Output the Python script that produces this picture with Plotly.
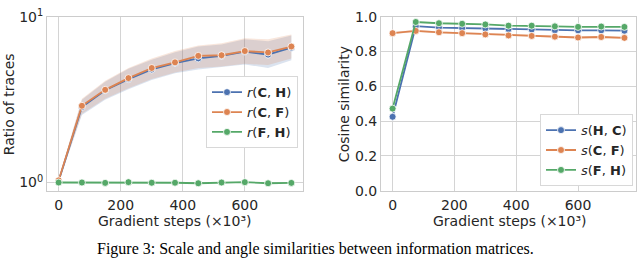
import plotly.graph_objects as go
from plotly.subplots import make_subplots

# gradient steps (x10^3)
steps = [0, 75, 150, 225, 300, 375, 450, 525, 600, 675, 750]

# ratio of traces (left panel)
r_ch = [1.02, 2.85, 3.6, 4.2, 4.8, 5.25, 5.6, 5.8, 6.15, 5.9, 6.5]
r_ch_lo = [1.0, 2.55, 3.15, 3.65, 4.15, 4.55, 4.8, 4.95, 5.15, 4.9, 5.45]
r_ch_hi = [1.04, 3.15, 4.05, 4.85, 5.5, 6.1, 6.6, 6.8, 7.3, 7.1, 7.7]

r_cf = [1.03, 2.9, 3.62, 4.26, 4.9, 5.3, 5.8, 5.85, 6.2, 6.08, 6.6]
r_cf_lo = [1.0, 2.6, 3.2, 3.7, 4.2, 4.6, 4.9, 5.0, 5.2, 5.1, 5.6]
r_cf_hi = [1.05, 3.2, 4.1, 4.9, 5.6, 6.2, 6.7, 6.9, 7.4, 7.3, 7.8]

r_fh = [1.0, 1.0, 0.995, 1.005, 0.997, 0.997, 0.99, 1.0, 1.005, 0.99, 0.995]

# cosine similarity (right panel)
s_hc = [0.425, 0.945, 0.937, 0.934, 0.932, 0.928, 0.926, 0.922, 0.921, 0.921, 0.919]
s_cf = [0.905, 0.918, 0.91, 0.905, 0.898, 0.892, 0.889, 0.885, 0.88, 0.883, 0.878]
s_cf_lo = [v - 0.006 for v in s_cf]
s_cf_hi = [v + 0.006 for v in s_cf]
s_fh = [0.472, 0.969, 0.962, 0.959, 0.955, 0.948, 0.948, 0.944, 0.941, 0.943, 0.941]

BLUE, ORANGE, GREEN = "#4c72b0", "#dd8452", "#55a868"
FONT = "DejaVu Sans"
TXT = "#262626"

fig = make_subplots(rows=1, cols=2)


def band(lo, hi, color, row, col):
    fig.add_trace(go.Scatter(x=steps, y=hi, mode="lines", line=dict(width=0),
                             showlegend=False, hoverinfo="skip"), row=row, col=col)
    fig.add_trace(go.Scatter(x=steps, y=lo, mode="lines", line=dict(width=0),
                             fill="tonexty", fillcolor=color, showlegend=False,
                             hoverinfo="skip"), row=row, col=col)


def line(y, color, name, row, col, legend):
    fig.add_trace(go.Scatter(
        x=steps, y=y, mode="lines+markers", name=name, legend=legend,
        line=dict(color=color, width=1.8),
        marker=dict(size=7, color=color, line=dict(color="white", width=0.8)),
    ), row=row, col=col)


# left
band(r_ch_lo, r_ch_hi, "rgba(76,114,176,0.2)", 1, 1)
band(r_cf_lo, r_cf_hi, "rgba(221,132,82,0.2)", 1, 1)
line(r_ch, BLUE, "<i>r</i>(<b>C</b>, <b>H</b>)", 1, 1, "legend")
line(r_cf, ORANGE, "<i>r</i>(<b>C</b>, <b>F</b>)", 1, 1, "legend")
line(r_fh, GREEN, "<i>r</i>(<b>F</b>, <b>H</b>)", 1, 1, "legend")

# right
band(s_cf_lo, s_cf_hi, "rgba(221,132,82,0.2)", 1, 2)
line(s_hc, BLUE, "<i>s</i>(<b>H</b>, <b>C</b>)", 1, 2, "legend2")
line(s_cf, ORANGE, "<i>s</i>(<b>C</b>, <b>F</b>)", 1, 2, "legend2")
line(s_fh, GREEN, "<i>s</i>(<b>F</b>, <b>H</b>)", 1, 2, "legend2")

ax = dict(showgrid=True, gridcolor="#d4d4d4", gridwidth=1, showline=True,
          linecolor="#cccccc", linewidth=1, mirror=True, zeroline=False,
          ticks="", ticklabeloverflow="allow",
          tickfont=dict(family=FONT, size=14, color=TXT))

fig.update_xaxes(**ax, range=[-37.5, 787.5], tickvals=[0, 200, 400, 600],
                 ticklabelstandoff=1)
fig.update_xaxes(domain=[47 / 640, 303 / 640], row=1, col=1)
fig.update_xaxes(domain=[381 / 640, 636 / 640], row=1, col=2)
fig.update_yaxes(**ax, domain=[1 - 194 / 265, 1 - 7 / 265])
fig.update_yaxes(type="log", range=[-0.05, 1.0005], tickvals=[1, 10],
                 ticktext=["10<sup>0</sup>", "10<sup>1</sup>"], row=1, col=1)
fig.update_yaxes(range=[0, 1.0005], tickvals=[0, 0.2, 0.4, 0.6, 0.8, 1.0],
                 tickformat=".1f", row=1, col=2)

leg = dict(bgcolor="white", bordercolor="#d8d8d8", borderwidth=1,
           font=dict(family=FONT, size=13, color=TXT), traceorder="normal",
           tracegroupgap=0, itemwidth=30)

annots = [
    dict(text="Ratio of traces", x=9 / 640, y=1 - 101 / 265, textangle=-90),
    dict(text="Cosine similarity", x=344 / 640, y=1 - 101 / 265, textangle=-90),
    dict(text="Gradient steps (×10³)", x=175 / 640, y=1 - 226.5 / 265),
    dict(text="Gradient steps (×10³)", x=510 / 640, y=1 - 226.5 / 265),
]
for a in annots:
    a.update(xref="paper", yref="paper", showarrow=False,
             font=dict(family=FONT, size=14, color=TXT),
             xanchor="center", yanchor="middle")
annots.append(dict(text="Figure 3: Scale and angle similarities between information matrices.",
                   x=95 / 640, y=1 - 256 / 265, xref="paper", yref="paper", showarrow=False,
                   xanchor="left", yanchor="middle",
                   font=dict(family="Liberation Serif", size=16, color="black")))

fig.update_layout(
    width=640, height=265, margin=dict(l=0, r=0, t=0, b=0),
    plot_bgcolor="white", paper_bgcolor="white",
    legend=dict(leg, x=298 / 640, y=1 - 71 / 265, xanchor="right", yanchor="top"),
    legend2=dict(leg, x=633 / 640, y=1 - 189 / 265, xanchor="right", yanchor="bottom"),
    annotations=annots,
)

# page body has a default 8px margin; drop it so the figure sits at the window origin
fig.write_html("out.html", config={"displayModeBar": False},
               post_script="document.body.style.margin='0';")
